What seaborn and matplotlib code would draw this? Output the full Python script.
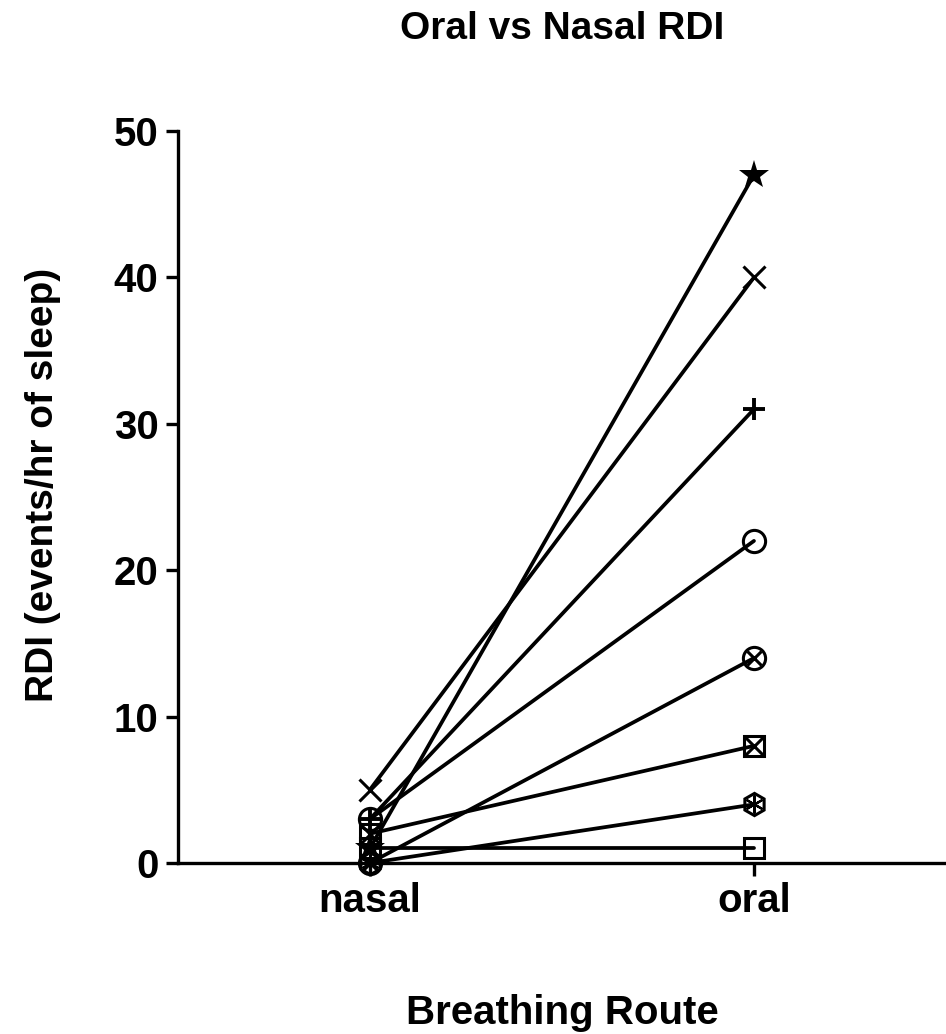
import pandas as pd
import numpy as np
import matplotlib
matplotlib.use('Agg')
import matplotlib.pyplot as plt
import seaborn as sns

# 데이터: 호흡 경로별 RDI (피험자 8명)
routes = ['nasal', 'oral']
subjects = ['s1', 's2', 's3', 's4', 's5', 's6', 's7', 's8']
nasal_rdi = [1, 5, 3, 3, 0, 2, 0, 1]
oral_rdi = [47, 40, 31, 22, 14, 8, 4, 1]
marker_kind = ['star', 'x', 'plus', 'circle', 'circle_x', 'square_x', 'hex_star', 'square']

df = pd.DataFrame({
    'subject': subjects * 2,
    'pos': [0] * len(subjects) + [1] * len(subjects),
    'rdi': nasal_rdi + oral_rdi,
})

sns.set_style('ticks')
plt.rcParams['font.family'] = ['Liberation Sans', 'DejaVu Sans']
plt.rcParams['font.weight'] = 'bold'
for key in ['text.color', 'axes.labelcolor', 'xtick.color', 'ytick.color', 'axes.edgecolor']:
    plt.rcParams[key] = 'black'

fig = plt.figure(figsize=(9.46, 10.34), dpi=100)
ax = fig.add_axes([0.188, 0.1654, 0.812, 0.7079])

lw = 2.7
sns.lineplot(data=df, x='pos', y='rdi', units='subject', estimator=None,
             color='black', lw=lw, ax=ax, legend=False)

# 마커 그리기 (복합 마커는 두 겹으로)
ms = 16
for i, kind in enumerate(marker_kind):
    xs = [0, 1]
    ys = [nasal_rdi[i], oral_rdi[i]]
    kw = dict(ls='none', color='black', clip_on=False, zorder=5)
    if kind == 'star':
        ax.plot(xs, ys, marker='*', ms=ms + 6, mew=0, **kw)
    elif kind == 'x':
        ax.plot(xs, ys, marker='x', ms=ms, mew=2.2, **kw)
    elif kind == 'plus':
        ax.plot(xs, ys, marker='+', ms=ms, mew=2.8, **kw)
    elif kind == 'circle':
        ax.plot(xs, ys, marker='o', ms=ms, mew=2.2, mfc='none', **kw)
    elif kind == 'circle_x':
        ax.plot(xs, ys, marker='o', ms=ms, mew=2.2, mfc='none', **kw)
        ax.plot(xs, ys, marker='x', ms=ms * 0.65, mew=2.2, **kw)
    elif kind == 'square_x':
        ax.plot(xs, ys, marker='s', ms=ms - 1, mew=2.2, mfc='none', **kw)
        ax.plot(xs, ys, marker='x', ms=ms - 3, mew=2.2, **kw)
    elif kind == 'hex_star':
        ax.plot(xs, ys, marker='h', ms=ms, mew=2.2, mfc='none', **kw)
        ax.plot(xs, ys, marker=(6, 2, 0), ms=ms - 3, mew=1.6, **kw)
    elif kind == 'square':
        ax.plot(xs, ys, marker='s', ms=ms - 1, mew=2.2, mfc='none', **kw)

ax.set_xlim(-0.5, 1.5)
ax.set_ylim(0, 50)
ax.set_xticks([0, 1])
ax.set_xticklabels(routes)
ax.set_yticks([0, 10, 20, 30, 40, 50])

sns.despine(ax=ax)
for sp in ['left', 'bottom']:
    ax.spines[sp].set_linewidth(2.4)
ax.tick_params(axis='both', width=2.4, length=9, labelsize=29, pad=5)
for lab in ax.get_xticklabels() + ax.get_yticklabels():
    lab.set_fontweight('bold')

ax.set_xlabel('Breathing Route', fontsize=29, fontweight='bold', labelpad=53)
ax.set_ylabel('RDI (events/hr of sleep)', fontsize=28, fontweight='bold')
ax.yaxis.set_label_coords(-0.152, 0.516)
ax.set_title('Oral vs Nasal RDI', fontsize=28, fontweight='bold', pad=66)

fig.savefig('out.png', dpi=100)
